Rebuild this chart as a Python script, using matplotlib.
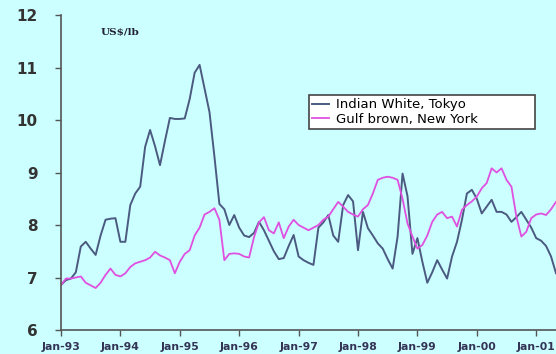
import matplotlib
matplotlib.use("Agg")
import matplotlib.pyplot as plt

# Monthly prices, Jan 1993 onwards (US$/lb)
indian_white_tokyo = [
    6.86, 6.95, 6.98, 7.10, 7.59, 7.68, 7.55, 7.43, 7.80, 8.10,
    8.12, 8.13, 7.68, 7.68, 8.38, 8.60, 8.73, 9.49, 9.81, 9.50,
    9.14, 9.60, 10.04, 10.02, 10.02, 10.03, 10.40, 10.90, 11.05, 10.60,
    10.15, 9.30, 8.40, 8.30, 8.00, 8.19, 7.95, 7.80, 7.77, 7.85,
    8.06, 7.90, 7.70, 7.50, 7.35, 7.37, 7.60, 7.81, 7.40, 7.33,
    7.28, 7.24, 7.95, 8.05, 8.19, 7.80, 7.68, 8.38, 8.57, 8.45,
    7.52, 8.25, 7.94, 7.80, 7.65, 7.55, 7.35, 7.17, 7.78, 8.98,
    8.55, 7.45, 7.75, 7.30, 6.90, 7.10, 7.33, 7.15, 6.98, 7.40,
    7.68, 8.10, 8.60, 8.67, 8.50, 8.22, 8.35, 8.48, 8.25, 8.25,
    8.20, 8.06, 8.15, 8.25, 8.10, 7.95, 7.75, 7.70, 7.60, 7.40,
    7.08,
]
gulf_brown_new_york = [
    6.86, 6.98, 6.98, 7.00, 7.02, 6.90, 6.85, 6.80, 6.90, 7.05,
    7.17, 7.05, 7.02, 7.08, 7.20, 7.27, 7.30, 7.33, 7.38, 7.49,
    7.42, 7.38, 7.33, 7.08, 7.30, 7.45, 7.52, 7.80, 7.95, 8.20,
    8.25, 8.32, 8.10, 7.33, 7.45, 7.46, 7.45, 7.40, 7.38, 7.77,
    8.05, 8.15, 7.90, 7.84, 8.05, 7.75, 7.97, 8.10, 8.00, 7.95,
    7.90, 7.95, 8.00, 8.10, 8.16, 8.30, 8.44, 8.35, 8.25, 8.20,
    8.16, 8.30, 8.38, 8.60, 8.86, 8.90, 8.92, 8.90, 8.86, 8.50,
    8.03, 7.78, 7.55, 7.62, 7.80, 8.06, 8.20, 8.25, 8.13, 8.16,
    7.97, 8.29, 8.38, 8.45, 8.54, 8.70, 8.80, 9.08, 9.00, 9.08,
    8.86, 8.73, 8.16, 7.78, 7.87, 8.13, 8.20, 8.22, 8.19, 8.30,
    8.44,
]
tick_labels = ["Jan-93", "Jan-94", "Jan-95", "Jan-96", "Jan-97",
               "Jan-98", "Jan-99", "Jan-00", "Jan-01"]
y_ticks = [6, 7, 8, 9, 10, 11, 12]

bg = "#ccffff"
months = list(range(len(indian_white_tokyo)))

fig = plt.figure(figsize=(5.56, 3.54), dpi=100, facecolor=bg)
ax = fig.add_axes([0.1097, 0.0678, 0.8903, 0.8898], facecolor=bg)

ax.plot(months, indian_white_tokyo, color="#4b5a80", lw=1.4,
        label="Indian White, Tokyo")
ax.plot(months, gulf_brown_new_york, color="#e050e0", lw=1.3,
        label="Gulf brown, New York")

ax.set_xlim(0, 100)
ax.set_ylim(6, 12)
ax.set_yticks(y_ticks)
ax.set_yticklabels([str(v) for v in y_ticks], fontsize=11, fontweight="bold",
                   color="#333333")
ax.set_xticks([12 * i for i in range(len(tick_labels))])
ax.set_xticklabels(tick_labels, fontsize=7.8, fontweight="bold", color="#333355")

for side in ("top", "right"):
    ax.spines[side].set_visible(False)
for side in ("left", "bottom"):
    ax.spines[side].set_color("#555555")
    ax.spines[side].set_linewidth(1.2)
ax.tick_params(axis="both", direction="out", color="#555555", length=4, width=1)
ax.tick_params(axis="y", pad=13)
ax.tick_params(axis="x", pad=5)

ax.text(7.9, 11.66, "US$/lb", fontsize=7.5, fontweight="bold",
        family="DejaVu Serif", color="#222233", va="center")

leg = ax.legend(loc="upper left", bbox_to_anchor=(0.501, 0.641, 0.457, 0.105),
                mode="expand", borderaxespad=0, fontsize=9.5,
                frameon=True, fancybox=False, handlelength=1.3,
                handletextpad=0.5, borderpad=0.25, labelspacing=0.1,
                edgecolor="#444444", facecolor="white", framealpha=1)
leg.get_frame().set_linewidth(1.2)

fig.savefig("out.png", dpi=100, facecolor=bg)
